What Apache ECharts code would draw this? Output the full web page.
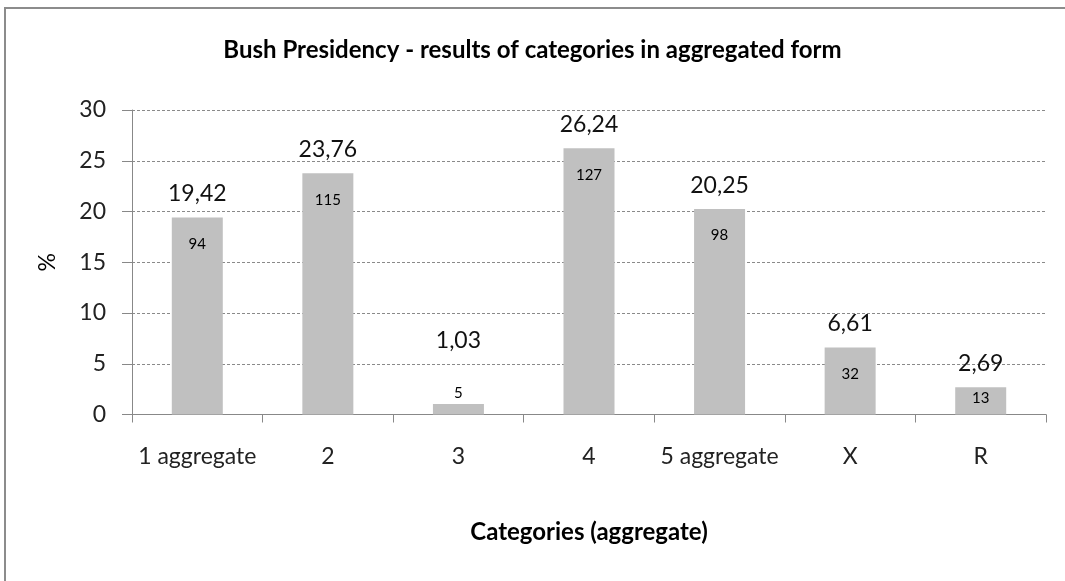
<!DOCTYPE html>
<html><head><meta charset="utf-8">
<script src="https://cdn.jsdelivr.net/npm/echarts@6/dist/echarts.min.js"></script>
<style>html,body{margin:0;padding:0;background:#fff}#c{width:1065px;height:581px}</style>
</head><body><div id="c"></div>
<script>
const categories = ['1 aggregate','2','3','4','5 aggregate','X','R'];
const percentages = [19.42, 23.76, 1.03, 26.24, 20.25, 6.61, 2.69];
const counts = [94, 115, 5, 127, 98, 32, 13];
const yTicks = [0, 5, 10, 15, 20, 25, 30];

const chart = echarts.init(document.getElementById('c'), null, {renderer:'canvas'});
const font = 'Lato, "Open Sans", sans-serif';

// label placement tweaks (styling only)
const countLabelOverride = {2:{position:'top', distance:3}, 6:{distance:3}};
const valueLabelOverride = {2:{distance:52}};

const countData = percentages.map((v,i) => countLabelOverride[i] ? {value:v, label:countLabelOverride[i]} : v);
const valueData = percentages.map((v,i) => valueLabelOverride[i] ? {value:v, label:valueLabelOverride[i]} : v);

chart.setOption({
  animation:false,
  backgroundColor:'#fff',
  graphic:[{type:'rect', shape:{x:5,y:8,width:1070,height:600}, style:{fill:'none', stroke:'#8c8c8c', lineWidth:2}}],
  title:{text:'Bush Presidency - results of categories in aggregated form', left:'center', top:33,
    textStyle:{fontFamily:font, fontSize:24, fontWeight:'bold', color:'#000'}},
  grid:{left:132, right:19, top:110, bottom:166.5, containLabel:false},
  xAxis:{type:'category', data:categories,
    name:'Categories (aggregate)', nameLocation:'middle', nameGap:106,
    nameTextStyle:{fontFamily:font, fontSize:24, fontWeight:'bold', color:'#000'},
    axisLine:{lineStyle:{color:'#888'}},
    axisTick:{show:true, length:8, lineStyle:{color:'#888'}},
    axisLabel:{interval:0, fontFamily:font, fontSize:23, color:'#222', margin:31}},
  yAxis:{type:'value', min:0, max:30, interval:5,
    name:'%', nameLocation:'middle', nameGap:73, nameRotate:90,
    nameTextStyle:{fontFamily:font, fontSize:23, color:'#000'},
    axisLine:{show:true, lineStyle:{color:'#888'}},
    axisTick:{show:true, length:10, lineStyle:{color:'#888'}},
    axisLabel:{fontFamily:font, fontSize:23, color:'#222', margin:26,
      formatter:v => yTicks.includes(v) ? String(v) : ''},
    splitLine:{lineStyle:{color:'#8a8a8a', type:[3,2], width:1}}},
  series:[
    {type:'bar', data:countData, barWidth:51, itemStyle:{color:'#c0c0c0'},
     label:{show:true, position:'insideTop', distance:19, fontFamily:font, fontSize:15, color:'#000',
       formatter:p => String(counts[p.dataIndex])}},
    {type:'bar', data:valueData, barWidth:51, barGap:'-100%', itemStyle:{color:'rgba(0,0,0,0)'},
     label:{show:true, position:'top', distance:12, fontFamily:font, fontSize:23, color:'#111',
       formatter:p => p.value.toFixed(2).replace('.', ',')}}
  ]
});
</script></body></html>
